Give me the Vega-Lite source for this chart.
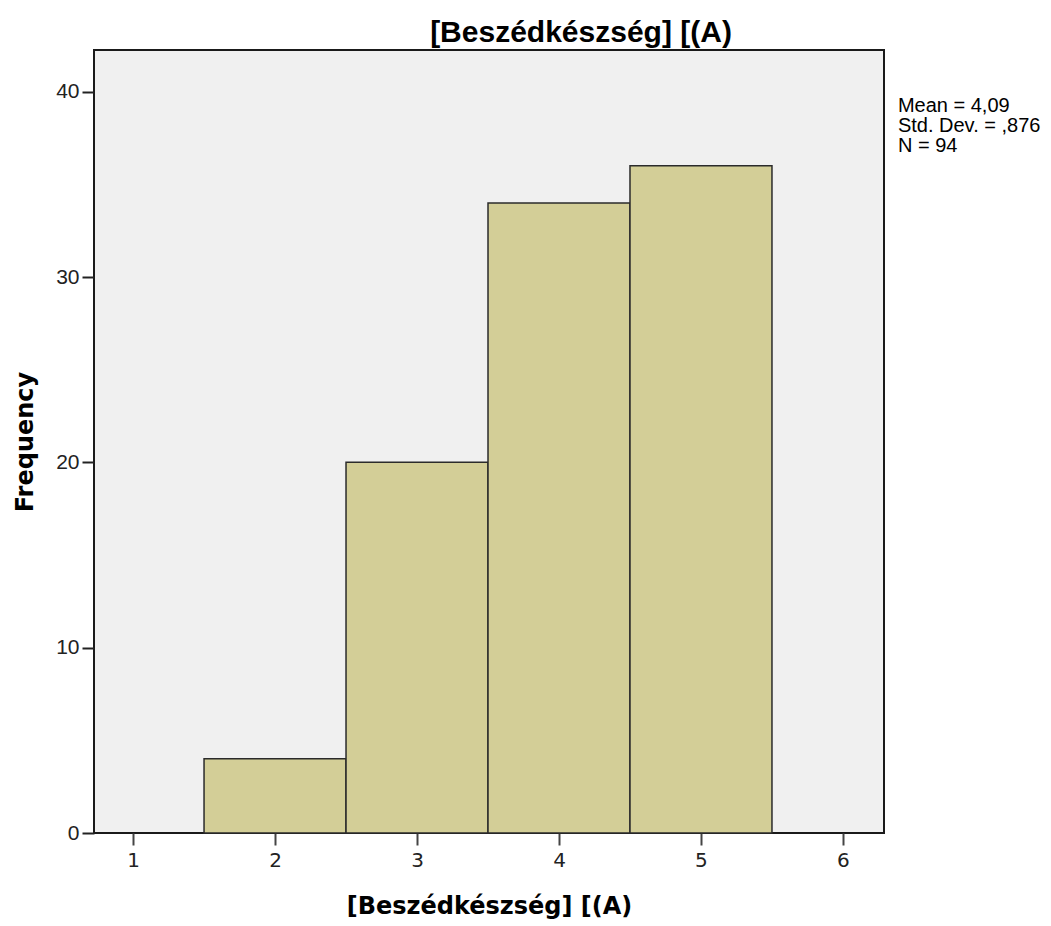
{
  "$schema": "https://vega.github.io/schema/vega-lite/v6.json",
  "width": 790,
  "height": 783,
  "autosize": "none",
  "padding": {"left": 94, "top": 50, "right": 167, "bottom": 93},
  "background": "white",
  "title": {
    "text": "[Beszédkészség] [(A)",
    "font": "Liberation Sans",
    "fontSize": 30,
    "fontWeight": "bold",
    "color": "#000000",
    "anchor": "middle",
    "dx": 92,
    "offset": 2
  },
  "config": {
    "view": {"fill": "#F0F0F0", "stroke": "#1a1a1a", "strokeWidth": 2},
    "axis": {"grid": false, "domain": false}
  },
  "data": {
    "values": [
      {"bin_start": 1.5, "bin_end": 2.5, "count": 4},
      {"bin_start": 2.5, "bin_end": 3.5, "count": 20},
      {"bin_start": 3.5, "bin_end": 4.5, "count": 34},
      {"bin_start": 4.5, "bin_end": 5.5, "count": 36}
    ]
  },
  "layer": [
    {
      "mark": {"type": "rect", "fill": "#D3CE97", "stroke": "#2b2b2b", "strokeWidth": 1.5},
      "encoding": {
        "x": {
          "field": "bin_start",
          "type": "quantitative",
          "scale": {"domain": [0.725, 6.289], "nice": false, "zero": false},
          "axis": {
            "values": [1, 2, 3, 4, 5, 6],
            "title": "[Beszédkészség] [(A)",
            "titleFont": "DejaVu Sans",
            "titleFontSize": 24,
            "titleFontWeight": "bold",
            "titleColor": "#000000",
            "titlePadding": 24,
            "labelFont": "DejaVu Sans",
            "labelFontSize": 20,
            "labelColor": "#222222",
            "labelPadding": 5,
            "tickSize": 12,
            "tickWidth": 2,
            "tickColor": "#444444",
            "format": "d"
          }
        },
        "x2": {"field": "bin_end"},
        "y": {
          "field": "count",
          "type": "quantitative",
          "scale": {"domain": [0, 42.25], "nice": false},
          "axis": {
            "values": [0, 10, 20, 30, 40],
            "title": "Frequency",
            "titleFont": "DejaVu Sans",
            "titleFontSize": 24,
            "titleFontWeight": "bold",
            "titleColor": "#000000",
            "titlePadding": 18,
            "labelFont": "Liberation Sans",
            "labelFontSize": 21,
            "labelColor": "#222222",
            "labelPadding": 3,
            "tickSize": 12,
            "tickWidth": 2,
            "tickColor": "#222222"
          }
        },
        "y2": {"datum": 0}
      }
    },
    {
      "data": {"values": [{"stats": "Mean = 4,09\nStd. Dev. = ,876\nN = 94"}]},
      "mark": {
        "type": "text",
        "align": "left",
        "baseline": "alphabetic",
        "font": "Liberation Sans",
        "fontSize": 20,
        "lineHeight": 20,
        "lineBreak": "\n",
        "color": "#000000",
        "clip": false
      },
      "encoding": {
        "text": {"field": "stats"},
        "x": {"datum": 6.387},
        "y": {"datum": 38.9}
      }
    }
  ]
}
